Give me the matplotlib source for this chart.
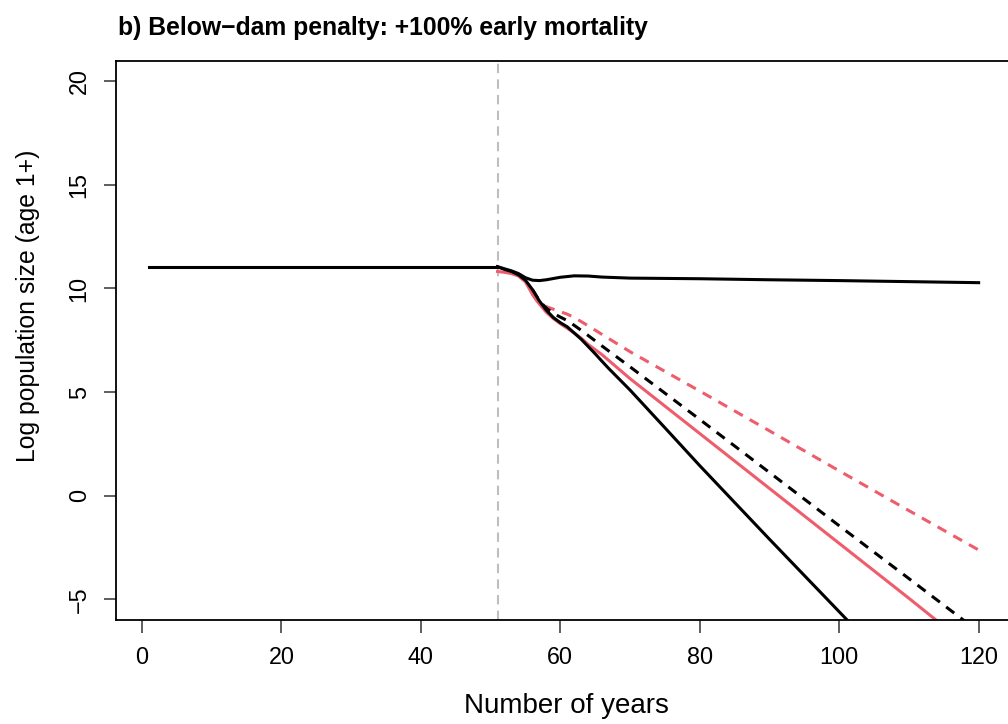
import numpy as np
import matplotlib
matplotlib.use('Agg')
import matplotlib.pyplot as plt

plt.rcParams['font.family'] = ['Liberation Sans', 'DejaVu Sans']

# Values (log population size, age 1+)
dam_year = 51

pre_years = [1, 51]
pre_vals = [11.05, 11.05]

# upper black line (no penalty)
top_years = [51, 52, 53, 54, 55, 56, 57, 58, 59, 60, 62, 64, 66, 70, 80, 90, 100, 110, 120]
top_vals = [11.05, 10.95, 10.85, 10.72, 10.52, 10.40, 10.38, 10.42, 10.48, 10.54, 10.61, 10.60,
            10.55, 10.50, 10.47, 10.42, 10.38, 10.33, 10.28]

# black solid, steep decline
blk_years = [51, 52, 53, 54, 55, 56, 57, 58, 59, 60, 61, 62, 63, 64, 65, 66, 67, 68, 70, 75, 80,
             90, 100, 102]
blk_vals = [11.05, 10.92, 10.82, 10.66, 10.40, 9.95, 9.40, 8.95, 8.60, 8.35, 8.15, 7.85, 7.55,
            7.20, 6.85, 6.48, 6.12, 5.78, 5.10, 3.28, 1.45, -2.10, -5.60, -6.30]

# red solid
red_years = [51, 52, 53, 54, 55, 56, 57, 58, 59, 60, 61, 62, 63, 64, 65, 66, 70, 80, 90, 100,
             110, 115]
red_vals = [10.82, 10.78, 10.72, 10.60, 10.32, 9.72, 9.25, 8.85, 8.55, 8.30, 8.08, 7.85, 7.60,
            7.30, 7.05, 6.80, 5.65, 3.00, 0.35, -2.30, -4.95, -6.30]

# black dashed
blkd_years = [56, 57, 58, 59, 60, 61, 62, 63, 64, 66, 68, 70, 80, 90, 100, 110, 118]
blkd_vals = [9.95, 9.40, 9.05, 8.80, 8.62, 8.45, 8.22, 7.98, 7.73, 7.22, 6.72, 6.22, 3.68, 1.12,
             -1.45, -4.00, -6.05]

# red dashed
redd_years = [56, 57, 58, 59, 60, 61, 62, 64, 66, 70, 80, 90, 100, 110, 120]
redd_vals = [9.72, 9.25, 9.12, 9.00, 8.88, 8.76, 8.60, 8.20, 7.78, 6.95, 5.05, 3.13, 1.20, -0.72,
             -2.62]

red = '#EE5D6C'
lw = 2.2

fig = plt.figure(figsize=(10.08, 7.24), dpi=100)
ax = fig.add_axes([0.1148, 0.1436, 0.889, 0.7728])

ax.axvline(dam_year, color='#BEBEBE', lw=1.5, dashes=(4.5, 3.0))

l1, = ax.plot(redd_years, redd_vals, color=red, lw=lw)
l1.set_dashes([3.3, 2.6])
l2, = ax.plot(blkd_years, blkd_vals, color='black', lw=lw)
l2.set_dashes([3.3, 2.6])
ax.plot(red_years, red_vals, color=red, lw=lw)
ax.plot(blk_years, blk_vals, color='black', lw=lw)
ax.plot(top_years, top_vals, color='black', lw=lw)
ax.plot(pre_years, pre_vals, color='black', lw=lw)

ax.set_xlim(-3.76, 124.76)
ax.set_ylim(-6, 21)
ax.set_xticks([0, 20, 40, 60, 80, 100, 120])
ax.set_yticks([-5, 0, 5, 10, 15, 20])
ax.set_yticklabels(['\u22125', '0', '5', '10', '15', '20'], rotation=90, va='center')
ax.tick_params(axis='both', direction='out', length=9, width=1.1, color='#333333',
               labelsize=16.8)
ax.tick_params(axis='x', pad=10)
ax.tick_params(axis='y', pad=9)
for s in ax.spines.values():
    s.set_linewidth(1.3)
    s.set_color('black')

fig.text(566 / 1008, 1 - 706 / 724, 'Number of years', ha='center', va='center', fontsize=20)
fig.text(28 / 1008, 1 - 306 / 724, 'Log population size (age 1+)', ha='center', va='center',
         rotation=90, fontsize=17.8)
fig.text(118 / 1008, 1 - 28 / 724, 'b) Below\u2212dam penalty: +100% early mortality',
         ha='left', va='center', fontsize=17.8, fontweight='bold')

plt.savefig('out.png', dpi=100)
